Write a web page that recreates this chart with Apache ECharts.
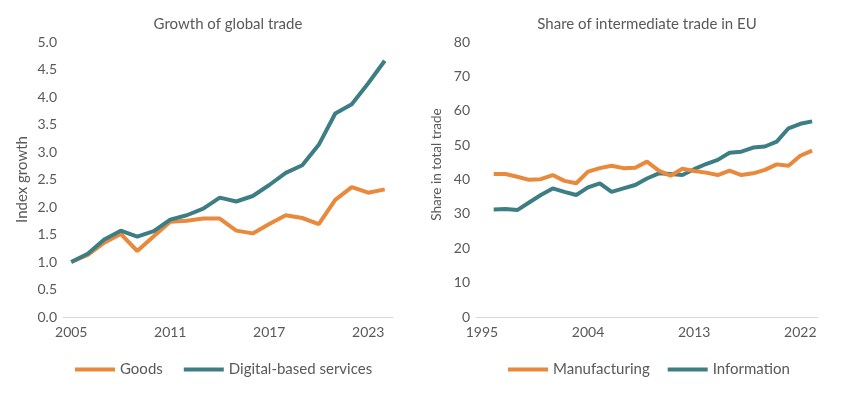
<!DOCTYPE html>
<html>
<head>
<meta charset="utf-8">
<script src="https://cdn.jsdelivr.net/npm/echarts@6/dist/echarts.min.js"></script>
<style>html,body{margin:0;padding:0;background:#fff}#c{width:850px;height:396px}</style>
</head>
<body>
<div id="c"></div>
<script>
const leftYears = ['2005','2006','2007','2008','2009','2010','2011','2012','2013','2014','2015','2016','2017','2018','2019','2020','2021','2022','2023','2024'];
const goods = [1.00,1.13,1.35,1.51,1.20,1.47,1.73,1.75,1.79,1.79,1.57,1.52,1.69,1.85,1.80,1.69,2.13,2.36,2.26,2.32];
const digital = [1.00,1.15,1.41,1.57,1.46,1.56,1.77,1.85,1.97,2.17,2.10,2.20,2.40,2.62,2.76,3.13,3.70,3.87,4.25,4.66];

const rightYears = ['1995','1996','1997','1998','1999','2000','2001','2002','2003','2004','2005','2006','2007','2008','2009','2010','2011','2012','2013','2014','2015','2016','2017','2018','2019','2020','2021','2022','2023'];
const manufacturing = [null,41.6,41.6,40.8,39.9,40.1,41.3,39.6,38.9,42.3,43.3,44.0,43.3,43.4,45.2,42.6,41.1,43.1,42.5,42.0,41.3,42.6,41.3,41.8,42.8,44.4,44.0,46.9,48.4];
const information = [null,31.3,31.4,31.1,33.3,35.5,37.4,36.4,35.5,37.7,38.9,36.4,37.4,38.4,40.3,41.8,41.6,41.3,43.0,44.5,45.7,47.8,48.1,49.3,49.6,51.0,54.9,56.2,56.9];

const leftTitle = 'Growth of global trade';
const rightTitle = 'Share of intermediate trade in EU';
const leftYName = 'Index growth';
const rightYName = 'Share in total trade';

const ORANGE = '#E8893B';
const TEAL = '#3D7E85';
const TXT = '#595959';
const FONT = 'Lato';

const chart = echarts.init(document.getElementById('c'), null, {renderer: 'canvas'});

function xAxis(gridIndex, data, interval) {
  return {
    type: 'category', gridIndex, data, boundaryGap: true,
    axisLine: {lineStyle: {color: '#d9d9d9', width: 1}},
    axisTick: {show: false},
    axisLabel: {interval, color: TXT, fontFamily: FONT, fontSize: 14, margin: 8}
  };
}

chart.setOption({
  animation: false,
  title: [
    {text: leftTitle, left: 228, top: 17, textAlign: 'center', padding: 0,
     textStyle: {color: TXT, fontFamily: FONT, fontSize: 15, fontWeight: 'normal'}},
    {text: rightTitle, left: 647, top: 17, textAlign: 'center', padding: 0,
     textStyle: {color: TXT, fontFamily: FONT, fontSize: 15, fontWeight: 'normal'}}
  ],
  grid: [
    {left: 63, right: 457, top: 42, bottom: 79},
    {left: 476, right: 32, top: 42, bottom: 79}
  ],
  xAxis: [xAxis(0, leftYears, 5), xAxis(1, rightYears, 8)],
  yAxis: [
    {type: 'value', gridIndex: 0, min: 0, max: 5, interval: 0.5,
     name: leftYName, nameLocation: 'middle', nameGap: 33, nameRotate: 90,
     nameTextStyle: {color: TXT, fontFamily: FONT, fontSize: 15},
     axisLine: {show: false}, axisTick: {show: false}, splitLine: {show: false},
     axisLabel: {color: TXT, fontFamily: FONT, fontSize: 14, margin: 6, formatter: v => v.toFixed(1)}},
    {type: 'value', gridIndex: 1, min: 0, max: 80, interval: 10,
     name: rightYName, nameLocation: 'middle', nameGap: 32, nameRotate: 90,
     nameTextStyle: {color: TXT, fontFamily: FONT, fontSize: 13.5, padding: [0, 0, 0, 30]},
     axisLine: {show: false}, axisTick: {show: false}, splitLine: {show: false},
     axisLabel: {color: TXT, fontFamily: FONT, fontSize: 14, margin: 6}}
  ],
  legend: [
    {left: 70, top: 357, itemWidth: 40, itemHeight: 4, itemGap: 21, icon: 'rect',
     data: ['Goods', 'Digital-based services'],
     textStyle: {color: TXT, fontFamily: FONT, fontSize: 15}},
    {left: 503, top: 357, itemWidth: 40, itemHeight: 4, itemGap: 18, icon: 'rect',
     data: ['Manufacturing', 'Information'],
     textStyle: {color: TXT, fontFamily: FONT, fontSize: 15}}
  ],
  series: [
    {name: 'Goods', type: 'line', xAxisIndex: 0, yAxisIndex: 0, data: goods,
     showSymbol: false, symbol: 'none', color: ORANGE, lineStyle: {width: 4, color: ORANGE}, z: 2},
    {name: 'Digital-based services', type: 'line', xAxisIndex: 0, yAxisIndex: 0, data: digital,
     showSymbol: false, symbol: 'none', color: TEAL, lineStyle: {width: 4, color: TEAL}, z: 3},
    {name: 'Manufacturing', type: 'line', xAxisIndex: 1, yAxisIndex: 1, data: manufacturing,
     showSymbol: false, symbol: 'none', color: ORANGE, lineStyle: {width: 4, color: ORANGE}, z: 3},
    {name: 'Information', type: 'line', xAxisIndex: 1, yAxisIndex: 1, data: information,
     showSymbol: false, symbol: 'none', color: TEAL, lineStyle: {width: 4, color: TEAL}, z: 2}
  ]
});
</script>
</body>
</html>
